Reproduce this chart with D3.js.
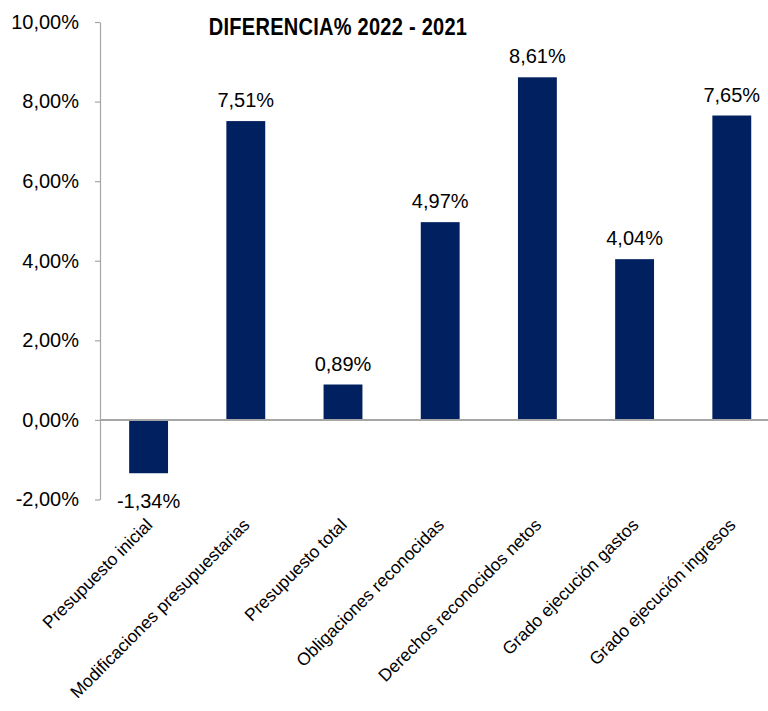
<!DOCTYPE html>
<html>
<head>
<meta charset="utf-8">
<script src="https://cdn.jsdelivr.net/npm/d3@7"></script>
<style>
  body { margin: 0; background: #fff; }
  svg { display: block; font-family: "Liberation Sans", Arial, sans-serif; }
</style>
</head>
<body>
<svg id="chart" width="768" height="711"></svg>
<script>
// data
const categories = [
    "Presupuesto inicial",
    "Modificaciones presupuestarias",
    "Presupuesto total",
    "Obligaciones reconocidas",
    "Derechos reconocidos netos",
    "Grado ejecución gastos",
    "Grado ejecución ingresos"
];
const values = [-1.34, 7.51, 0.89, 4.97, 8.61, 4.04, 7.65];
const yTicks = [-2, 0, 2, 4, 6, 8, 10];
const title = "DIFERENCIA% 2022 - 2021";

const data = categories.map((c, i) => ({ name: c, value: values[i] }));

// spanish number format: 10,00%  (plain hyphen for negatives)
const es = d3.formatLocale({ decimal: ",", thousands: ".", grouping: [3], currency: ["", "€"], minus: "-" });
const fmt = d => es.format(".2f")(d) + "%";

const svg = d3.select("#chart");

// plot area edges
const plotLeft = 100, plotRight = 780.4, plotTop = 22, plotBottom = 499.5;

const y = d3.scaleLinear().domain([-2, 10]).range([plotBottom, plotTop]);
const x = d3.scaleBand()
    .domain(categories)
    .range([plotLeft, plotRight])
    .paddingInner(0.6)
    .paddingOuter(0.3);

// y axis
const yAxis = svg.append("g")
    .attr("transform", `translate(${plotLeft},0)`)
    .call(d3.axisLeft(y).tickValues(yTicks).tickFormat(fmt).tickSize(5).tickSizeOuter(0).tickPadding(16));
yAxis.select(".domain").attr("stroke", "#a6a6a6").attr("stroke-width", 1.2);
yAxis.selectAll(".tick line").attr("stroke", "#a6a6a6").attr("stroke-width", 1.2);
yAxis.selectAll(".tick text")
    .attr("fill", "#000")
    .style("font-size", "20px")
    .style("font-family", "'Liberation Sans', Arial, sans-serif");

// bars
svg.selectAll(".bar")
    .data(data)
    .enter()
    .append("rect")
    .attr("class", "bar")
    .attr("x", d => x(d.name))
    .attr("y", d => y(Math.max(0, d.value)))
    .attr("width", x.bandwidth())
    .attr("height", d => Math.abs(y(d.value) - y(0)))
    .attr("fill", "#002060");

// x axis line at zero
svg.append("line")
    .attr("x1", plotLeft)
    .attr("x2", plotRight)
    .attr("y1", y(0))
    .attr("y2", y(0))
    .attr("stroke", "#a6a6a6")
    .attr("stroke-width", 2);

// value labels
svg.selectAll(".val")
    .data(data)
    .enter()
    .append("text")
    .attr("class", "val")
    .attr("x", d => x(d.name) + x.bandwidth() / 2)
    .attr("y", d => d.value >= 0 ? y(d.value) - 14 : y(d.value) + 35)
    .attr("text-anchor", "middle")
    .style("font-size", "20px")
    .style("fill", "#000")
    .text(d => fmt(d.value));

// category labels, rotated
svg.selectAll(".cat")
    .data(categories)
    .enter()
    .append("text")
    .attr("class", "cat")
    .attr("transform", d => `translate(${x(d) + x.bandwidth() / 2 + 5}, 526) rotate(-45)`)
    .attr("text-anchor", "end")
    .style("font-size", "17.5px")
    .style("fill", "#000")
    .text(d => d);

// title (condensed bold)
svg.append("text")
    .attr("transform", "translate(338,35) scale(0.87,1)")
    .attr("text-anchor", "middle")
    .style("font-weight", "bold")
    .style("font-size", "23px")
    .style("letter-spacing", "0.3px")
    .style("fill", "#000")
    .text(title);
</script>
</body>
</html>
